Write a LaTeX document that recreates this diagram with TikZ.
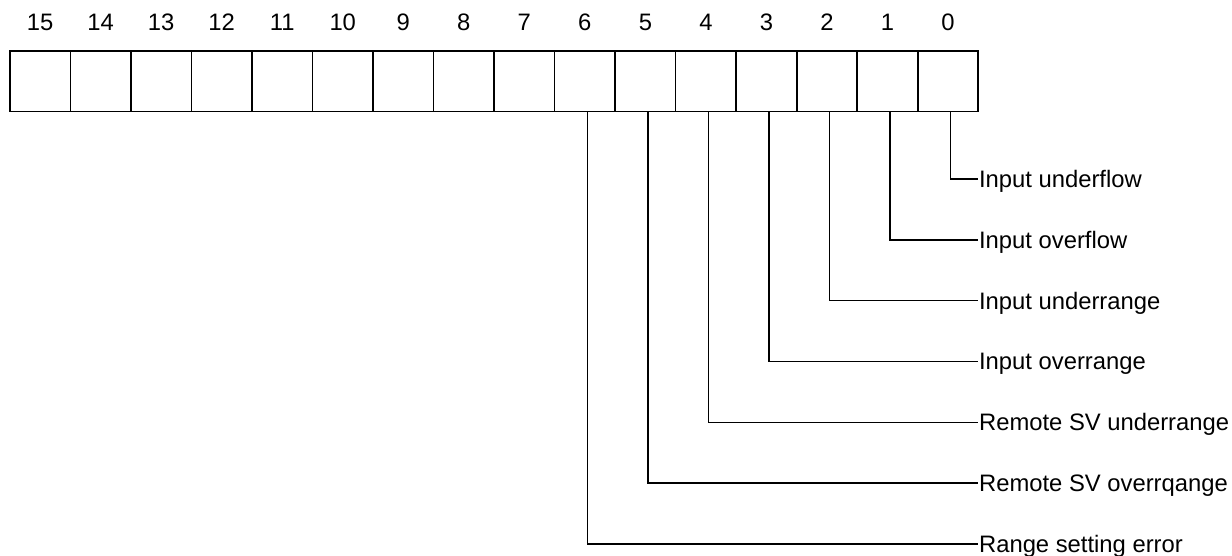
\documentclass[tikz,border=0pt]{standalone}
\usepackage{fontspec}
\setmainfont{Liberation Sans}
\begin{document}
\begin{tikzpicture}[x=1pt, y=-1pt, line width=1.6pt,
  every node/.style={font=\fontsize{23.8}{28}\selectfont, inner sep=0pt},
  bitbox/.style={draw, minimum width=60.5pt, minimum height=60.5pt},
  bitnum/.style={text height=17pt, text depth=0pt},
  flagtext/.style={anchor=west, text height=17pt, text depth=0pt}]
  \useasboundingbox (0,0) rectangle (1232,555);

  % register
  \def\w{60.53}
  \def\xr{978.3}
  \foreach \k in {0,...,15} {
    \node[bitbox] (b\k) at ({\xr-\w*(\k+0.5)},81.3) {};
    \node[bitnum] (n\k) at ({\xr-\w*(\k+0.5)},21.5) {\k};
  }

  % flag bits
  \foreach \k/\txt in {0/Input underflow,
                       1/Input overflow,
                       2/Input underrange,
                       3/Input overrange,
                       4/Remote SV underrange,
                       5/Remote SV overrqange,
                       6/Range setting error} {
    \node[flagtext] (l\k) at (978.3,{179+60.83*\k}) {\txt};
    \draw ([xshift=2.5pt]b\k.south) |- (l\k.west);
  }
\end{tikzpicture}
\end{document}
